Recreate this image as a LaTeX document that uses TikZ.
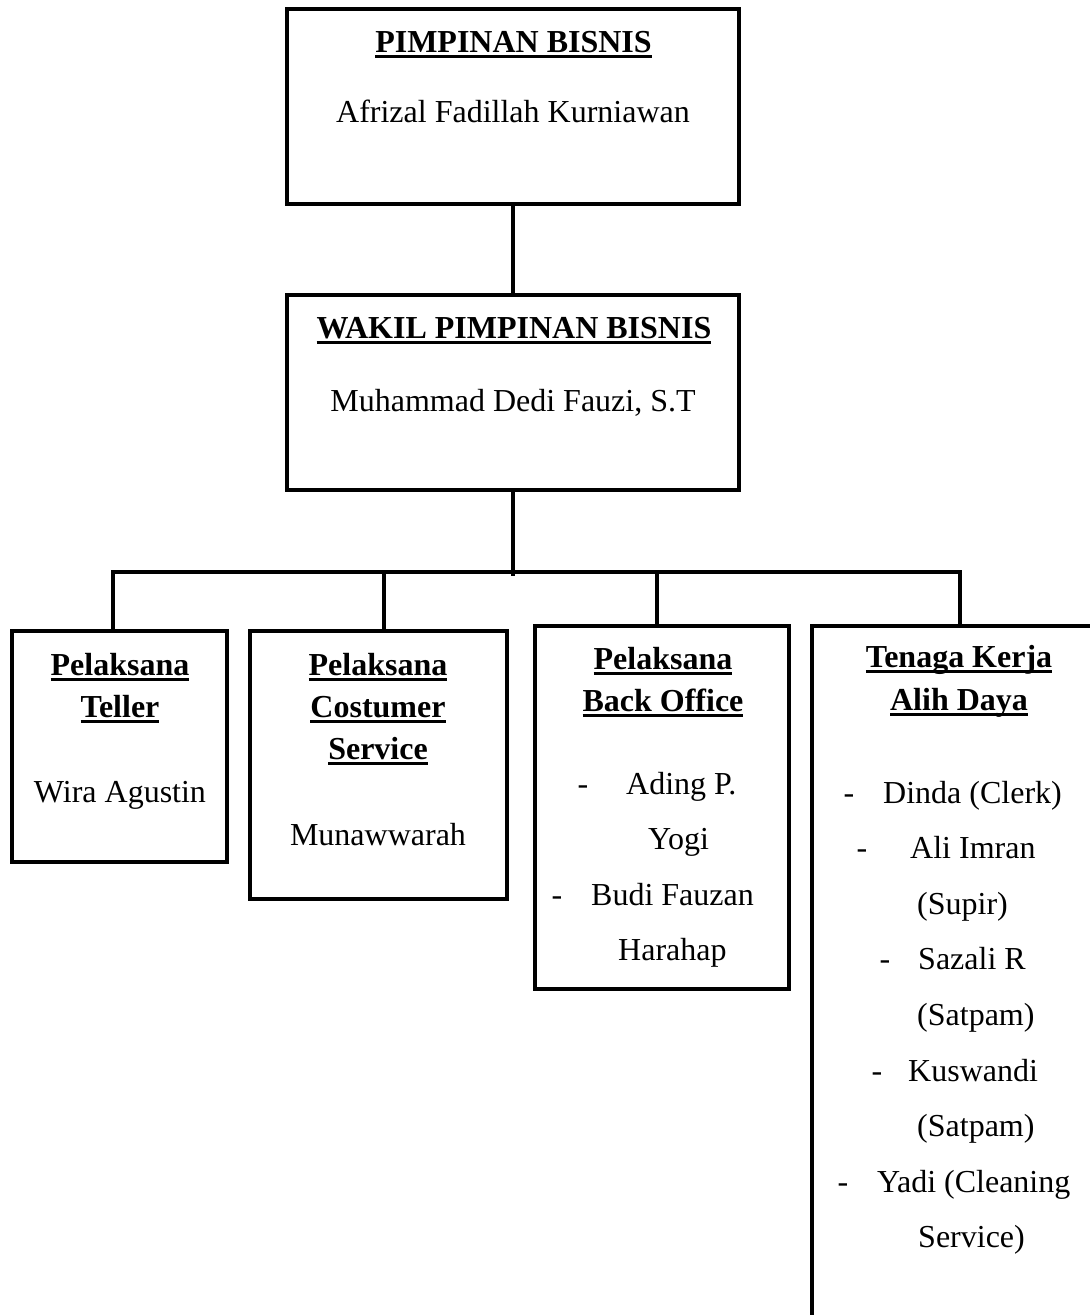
\documentclass[tikz,border=0pt]{standalone}
\usepackage{fontspec}
\setmainfont{Liberation Serif}
\newcommand{\ukuran}{\fontsize{32}{38}\selectfont}
\newcommand{\garisbawah}[1]{\setbox0\hbox{#1}\rlap{\rule[-5.8pt]{\wd0}{2.6pt}}\box0}
\tikzset{
  kotak/.style={draw, line width=3.4pt, inner sep=0pt},
  garis/.style={line width=3.4pt},
  judul/.style={anchor=base, inner sep=0pt, font=\ukuran\bfseries},
  isi/.style={anchor=base, inner sep=0pt, font=\ukuran},
  daftar/.style={anchor=base west, inner sep=0pt, font=\ukuran}
}
\begin{document}
\begin{tikzpicture}[x=1pt,y=-1pt]
\useasboundingbox (0,0) rectangle (1090,1315);
\clip (0,0) rectangle (1090,1315);
% kotak
\node[kotak,minimum width=452pt,minimum height=195pt] (pimpinan) at (513,106.5) {};
\node[kotak,minimum width=452pt,minimum height=195pt] (wakil) at (513,392.5) {};
\node[kotak,minimum width=215pt,minimum height=231pt] (teller) at (119.5,746.5) {};
\node[kotak,minimum width=257pt,minimum height=268pt] (cs) at (378.5,765) {};
\node[kotak,minimum width=254pt,minimum height=363pt] (bo) at (662,807.5) {};
\node[kotak,minimum width=298pt,minimum height=704pt] (tk) at (961,978) {};
% garis penghubung
\coordinate (cabang) at (513,576);
\coordinate (kiri) at (111,572);
\coordinate (kanan) at (962,572);
\coordinate (t1) at (113,572);
\coordinate (t2) at (384,572);
\coordinate (t3) at (657,572);
\coordinate (t4) at (960,572);
\draw[garis] (pimpinan.south) -- (wakil.north);
\draw[garis] (wakil.south) -- (cabang);
\draw[garis] (kiri) -- (kanan);
\draw[garis] (t1) -- (t1 |- teller.north);
\draw[garis] (t2) -- (t2 |- cs.north);
\draw[garis] (t3) -- (t3 |- bo.north);
\draw[garis] (t4) -- (t4 |- tk.north);
% teks
\node[judul] (j1) at (513.5,52) {\garisbawah{PIMPINAN BISNIS}};
\node[isi] (n1) at (513,122) {Afrizal Fadillah Kurniawan};
\node[judul] (j2) at (514,338) {\garisbawah{WAKIL PIMPINAN BISNIS}};
\node[isi] (n2) at (513,411) {Muhammad Dedi Fauzi, S.T};
\node[judul] (j3a) at (120,675) {\garisbawah{Pelaksana}};
\node[judul] (j3b) at (120,717) {\garisbawah{Teller}};
\node[isi] (n3) at (120,802) {Wira Agustin};
\node[judul] (j4a) at (378,675) {\garisbawah{Pelaksana}};
\node[judul] (j4b) at (378,717) {\garisbawah{Costumer}};
\node[judul] (j4c) at (378,759) {\garisbawah{Service}};
\node[isi] (n4) at (378,845) {Munawwarah};
\node[judul] (j5a) at (663,669) {\garisbawah{Pelaksana}};
\node[judul] (j5b) at (663,711) {\garisbawah{Back Office}};
\node[isi] (s5a) at (583,794) {-};
\node[daftar] (n5a) at (626,794) {Ading P.};
\node[daftar] (n5b) at (648,849.6) {Yogi};
\node[isi] (s5b) at (557,905.2) {-};
\node[daftar] (n5c) at (591,905.2) {Budi Fauzan};
\node[daftar] (n5d) at (618,960.8) {Harahap};
\node[judul] (j6a) at (959,667) {\garisbawah{Tenaga Kerja}};
\node[judul] (j6b) at (959,710) {\garisbawah{Alih Daya}};
\node[isi] (s6a) at (849,803) {-};
\node[daftar] (n6a) at (883,803) {Dinda (Clerk)};
\node[isi] (s6b) at (862,858.6) {-};
\node[daftar] (n6b) at (910,858.6) {Ali Imran};
\node[daftar] (n6c) at (917,914.2) {(Supir)};
\node[isi] (s6d) at (885,969.8) {-};
\node[daftar] (n6d) at (918,969.8) {Sazali R};
\node[daftar] (n6e) at (917,1025.4) {(Satpam)};
\node[isi] (s6f) at (877,1081) {-};
\node[daftar] (n6f) at (908,1081) {Kuswandi};
\node[daftar] (n6g) at (917,1136.6) {(Satpam)};
\node[isi] (s6h) at (843,1192.2) {-};
\node[daftar] (n6h) at (877,1192.2) {Yadi (Cleaning};
\node[daftar] (n6i) at (918,1247.8) {Service)};
\end{tikzpicture}
\end{document}
